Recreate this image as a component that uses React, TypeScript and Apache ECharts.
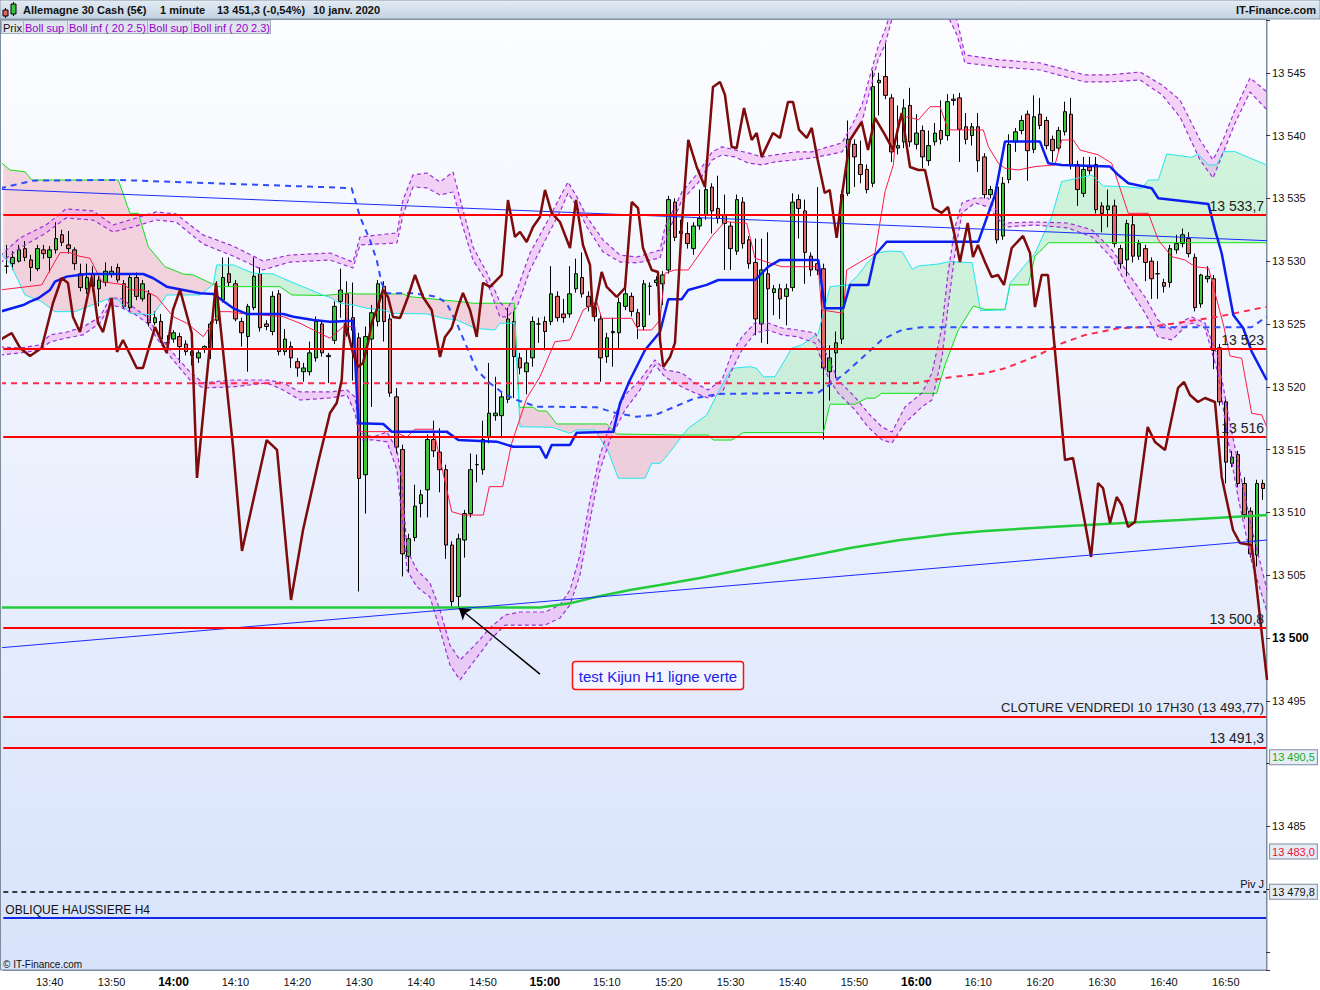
import React, { useEffect, useRef } from "react";
import * as echarts from "echarts";

const FONT = '"Liberation Sans", Arial, sans-serif';

// minute categories 13:33 -> 16:56
const minutes: string[] = [];
for (let k = 0; k < 204; k++) {
  const t = 13 * 60 + 33 + k;
  minutes.push(Math.floor(t / 60) + ":" + String(t % 60).padStart(2, "0"));
}

// [open, close, low, high]
const candles = [
  [13529.6,13529.6,13529.0,13531.3],[13529.8,13530.3,13529.3,13530.8],[13530.0,13530.9,13529.9,13531.3],[13531.0,13530.3,13530.0,13531.6],[13530.1,13529.5,13528.4,13530.5],[13529.4,13531.0,13529.2,13531.3],[13530.9,13530.6,13530.2,13531.3],[13530.3,13530.9,13529.1,13531.2],[13530.9,13531.8,13530.6,13533.1],[13532.1,13531.5,13531.2,13532.5],
  [13531.3,13531.0,13530.6,13532.4],[13530.9,13529.8,13529.3,13531.1],[13529.0,13527.9,13527.6,13529.8],[13527.8,13528.7,13527.4,13529.8],[13529.0,13528.0,13527.6,13529.6],[13527.8,13528.5,13526.4,13528.8],[13528.3,13529.2,13528.0,13529.9],[13529.0,13529.2,13528.7,13529.6],[13529.5,13528.5,13528.3,13529.8],[13528.2,13526.4,13526.2,13528.5],
  [13526.3,13528.7,13526.0,13528.9],[13528.7,13527.2,13526.9,13529.1],[13527.0,13528.2,13526.8,13528.5],[13527.4,13525.1,13524.8,13527.7],[13525.1,13525.5,13524.9,13526.0],[13525.2,13523.8,13523.5,13525.8],[13523.5,13523.5,13523.0,13524.1],[13523.8,13524.3,13523.5,13524.5],[13524.0,13523.2,13521.9,13524.3],[13523.4,13522.8,13522.5,13523.7],
  [13522.8,13522.5,13521.7,13523.0],[13522.3,13522.7,13521.9,13522.9],[13523.0,13523.2,13522.7,13523.3],[13523.0,13525.0,13522.2,13525.2],[13525.3,13527.2,13525.0,13528.4],[13526.9,13528.7,13526.7,13530.3],[13529.0,13528.3,13528.0,13530.3],[13528.2,13525.4,13525.2,13528.5],[13525.2,13524.3,13523.2,13525.5],[13524.0,13526.4,13521.2,13526.6],
  [13526.3,13528.8,13526.1,13530.3],[13529.0,13524.7,13524.4,13529.5],[13525.0,13524.8,13524.5,13525.3],[13524.4,13527.2,13524.1,13527.6],[13527.4,13522.8,13522.5,13527.7],[13522.8,13523.8,13522.5,13524.6],[13523.2,13522.3,13521.5,13523.6],[13522.0,13521.5,13520.8,13522.3],[13521.2,13521.5,13520.4,13521.9],[13521.2,13522.7,13520.9,13523.6],
  [13522.3,13525.2,13522.0,13525.6],[13525.0,13522.7,13522.4,13525.3],[13522.4,13522.5,13520.3,13522.7],[13523.7,13526.4,13523.4,13526.8],[13526.8,13527.7,13525.5,13529.4],[13527.4,13524.3,13524.0,13528.4],[13525.5,13524.5,13520.5,13528.3],[13523.9,13512.7,13503.7,13524.3],[13513.0,13524.0,13509.9,13524.8],[13523.8,13525.9,13518.4,13526.5],
  [13525.2,13528.2,13524.8,13528.5],[13528.0,13525.2,13523.6,13528.4],[13525.4,13519.5,13519.2,13525.8],[13519.2,13515.2,13514.7,13519.9],[13515.0,13506.7,13504.9,13515.4],[13506.5,13507.9,13505.2,13508.3],[13508.0,13510.5,13507.7,13512.2],[13510.7,13511.4,13509.6,13511.8],[13511.8,13515.8,13509.6,13516.2],[13515.8,13514.9,13514.4,13517.3],
  [13514.8,13513.4,13511.6,13516.7],[13513.4,13507.4,13506.3,13513.8],[13507.4,13502.9,13502.5,13507.7],[13503.3,13507.9,13502.4,13508.3],[13507.8,13509.9,13506.4,13510.2],[13509.9,13513.4,13509.6,13514.7],[13513.8,13513.8,13512.4,13514.6],[13513.4,13515.8,13513.0,13517.3],[13516.0,13517.9,13515.5,13521.9],[13517.7,13517.9,13517.3,13520.8],
  [13517.7,13519.2,13515.9,13519.6],[13519.0,13525.4,13518.7,13526.3],[13525.2,13522.4,13519.1,13526.0],[13522.3,13521.5,13521.0,13522.7],[13521.2,13521.9,13519.4,13523.0],[13522.3,13525.2,13521.6,13525.6],[13525.0,13525.0,13523.5,13525.5],[13525.2,13524.4,13522.9,13525.6],[13525.2,13527.4,13524.9,13529.6],[13527.2,13525.5,13525.2,13527.6],
  [13525.8,13525.5,13525.1,13527.0],[13525.8,13527.4,13525.5,13529.6],[13527.8,13529.0,13527.5,13530.2],[13528.7,13527.4,13527.1,13530.7],[13527.2,13526.4,13526.0,13527.6],[13526.3,13525.6,13525.2,13526.6],[13525.4,13522.3,13520.4,13525.8],[13522.4,13523.9,13521.9,13524.3],[13524.3,13524.4,13521.6,13525.5],[13524.3,13526.7,13523.0,13527.1],
  [13526.4,13527.4,13526.1,13527.9],[13527.2,13526.0,13525.6,13527.5],[13525.9,13524.8,13523.8,13526.2],[13524.8,13528.2,13524.5,13528.5],[13528.0,13528.0,13525.7,13528.3],[13528.3,13528.5,13528.0,13528.8],[13528.2,13528.9,13526.5,13529.2],[13529.3,13534.9,13529.0,13535.2],[13534.7,13531.9,13531.6,13535.0],[13532.2,13532.4,13531.1,13533.3],
  [13532.2,13531.4,13531.0,13533.1],[13531.0,13532.8,13530.5,13533.1],[13532.8,13533.4,13532.5,13535.7],[13533.7,13535.7,13533.3,13536.0],[13535.9,13534.0,13532.2,13536.2],[13534.2,13533.4,13533.0,13536.8],[13533.7,13533.0,13529.3,13535.3],[13532.8,13531.0,13529.3,13533.1],[13530.8,13534.9,13530.5,13535.3],[13534.7,13531.4,13531.0,13535.1],
  [13531.7,13529.8,13529.4,13532.0],[13529.9,13525.4,13524.1,13531.8],[13525.0,13529.3,13523.5,13531.8],[13529.0,13527.8,13523.4,13532.3],[13527.5,13527.8,13525.7,13528.1],[13527.8,13527.0,13525.4,13528.2],[13527.2,13527.8,13524.9,13528.2],[13527.9,13534.7,13527.6,13535.4],[13534.9,13534.2,13531.8,13535.3],[13534.0,13530.7,13528.2,13534.9],
  [13530.4,13529.3,13528.8,13530.7],[13529.8,13529.3,13528.9,13535.9],[13529.4,13521.5,13515.8,13529.8],[13521.2,13522.3,13518.9,13523.3],[13522.7,13523.5,13520.7,13524.4],[13523.8,13535.3,13523.4,13535.6],[13535.4,13539.7,13535.2,13541.2],[13539.3,13538.3,13535.9,13539.7],[13537.7,13536.9,13536.2,13539.6],[13537.3,13535.7,13535.4,13537.7],
  [13536.2,13543.9,13535.9,13545.2],[13544.2,13544.4,13541.6,13545.0],[13544.7,13543.2,13542.9,13547.3],[13543.0,13538.7,13537.9,13543.3],[13539.0,13539.2,13538.5,13542.4],[13539.5,13542.2,13539.0,13542.9],[13542.4,13539.5,13539.1,13543.8],[13539.3,13540.2,13538.9,13541.7],[13540.4,13538.3,13537.4,13540.8],[13538.0,13539.2,13537.6,13540.4],
  [13539.5,13540.2,13539.2,13541.0],[13540.4,13539.7,13539.3,13542.8],[13540.0,13542.7,13539.6,13543.3],[13542.9,13542.8,13542.4,13543.3],[13543.0,13540.5,13537.9,13543.4],[13540.7,13539.7,13539.3,13541.8],[13540.0,13540.7,13539.2,13541.0],[13540.7,13538.0,13537.1,13541.8],[13538.3,13535.3,13535.0,13538.6],[13535.3,13535.7,13535.0,13536.0],
  [13535.9,13531.7,13531.4,13536.2],[13532.0,13536.2,13531.7,13536.7],[13536.5,13539.3,13536.2,13540.1],[13539.5,13540.3,13538.7,13540.6],[13540.4,13541.2,13540.1,13541.6],[13541.7,13538.8,13536.4,13542.0],[13538.9,13541.5,13538.6,13543.2],[13541.7,13540.8,13540.5,13543.0],[13541.2,13539.2,13538.9,13541.5],[13539.7,13538.8,13537.9,13540.0],
  [13539.0,13540.4,13538.7,13540.7],[13540.3,13541.9,13540.0,13542.7],[13541.7,13537.6,13537.3,13543.0],[13537.7,13535.7,13534.4,13538.0],[13535.4,13537.3,13535.1,13538.3],[13537.5,13537.2,13536.9,13538.3],[13537.7,13534.1,13533.8,13538.3],[13534.4,13533.8,13532.3,13534.7],[13534.1,13534.4,13532.7,13535.7],[13534.4,13531.4,13531.1,13534.9],
  [13531.0,13529.8,13529.4,13531.3],[13530.1,13533.0,13528.8,13533.3],[13532.9,13530.4,13529.9,13533.6],[13530.4,13531.4,13530.1,13531.7],[13531.0,13529.9,13528.4,13531.3],[13530.0,13528.6,13527.0,13530.3],[13529.0,13529.0,13527.0,13530.0],[13528.3,13528.0,13527.5,13528.6],[13528.3,13531.0,13527.9,13531.3],[13530.9,13531.4,13530.6,13532.1],
  [13531.4,13532.1,13531.1,13532.6],[13531.8,13530.6,13530.3,13532.3],[13530.3,13526.3,13526.0,13530.6],[13526.6,13528.9,13526.3,13529.0],[13528.6,13528.8,13528.3,13529.6],[13528.6,13522.9,13521.4,13528.9],[13523.1,13518.8,13518.5,13523.4],[13518.8,13514.0,13512.3,13519.1],[13513.9,13514.4,13513.6,13514.9],[13514.6,13512.3,13512.0,13514.9],
  [13512.3,13509.8,13509.5,13512.8],[13510.1,13506.7,13506.4,13510.4],[13506.6,13512.3,13505.7,13512.6],[13512.3,13511.9,13511.0,13512.6],
];

// overlays: [minute index, value]
const priceLine = [
  [-1.03,13523.73],[0.86,13524.28],[2.2,13523.09],[3.81,13522.45],[5.7,13523.09],[7.53,13526.67],[8.93,13528.66],[9.95,13528.27],[10.76,13525.56],[11.89,13524.36],
  [13.78,13528.74],[14.8,13525.08],[15.61,13524.36],[17.01,13527.07],[17.87,13522.77],[18.84,13523.73],[21.05,13521.5],[22.07,13521.5],[24.01,13524.76],[25.9,13522.69],
  [26.91,13526.11],[28.05,13527.71],[29.94,13524.28],[30.79,13512.74],[33.86,13528.27],[36.61,13515.21],[38.06,13506.93],[42.05,13515.76],[43.72,13514.97],[45.98,13503.03],
  [47.92,13508.6],[50.34,13513.93],[52.28,13517.91],[53.36,13518.71],[54.17,13520.54],[54.7,13525.08],[55.19,13524.28],[55.99,13522.69],[56.8,13521.58],[57.61,13521.9],
  [58.42,13523.49],[59.01,13525.08],[59.82,13526.11],[60.84,13527.71],[61.65,13527.15],[62.46,13525.56],[63.59,13525.48],[64.88,13527.15],[66.01,13528.9],[67.3,13527.15],
  [68.71,13526.11],[70.05,13522.37],[70.86,13523.97],[71.94,13524.68],[72.96,13526.35],[73.76,13527.47],[74.9,13526.11],[75.98,13523.97],[76.99,13528.27],[78.13,13527.95],
  [80.02,13528.9],[81.03,13534.87],[82.16,13531.93],[82.97,13532.33],[84.05,13531.53],[85.07,13532.72],[86.2,13533.52],[87.01,13535.67],[88.09,13533.84],[89.43,13533.12],
  [91.05,13531.05],[92.02,13534.87],[93.15,13531.29],[94.28,13529.7],[94.77,13525.56],[96.17,13529.14],[96.98,13527.95],[98.59,13527.15],[99.94,13527.87],[101.02,13534.71],
  [102.04,13534.23],[102.84,13531.05],[104.25,13529.3],[105.27,13529.14],[105.59,13523.73],[106.12,13521.58],[107.21,13522.37],[108.01,13523.49],[109.09,13532.72],[110.16,13539.65],
  [111.52,13537.5],[112.86,13535.91],[114.15,13543.87],[115.28,13544.27],[116.09,13543.23],[117.17,13539.09],[117.98,13539.01],[119.16,13542.2],[120.4,13539.65],[121.21,13540.21],
  [122.02,13538.3],[123.84,13540.21],[124.98,13539.81],[126.27,13542.68],[127.08,13542.68],[128.05,13540.45],[129.29,13539.81],[130.1,13540.61],[131.07,13538.06],[132.2,13535.43],
  [133.01,13535.67],[134.13,13531.85],[134.94,13535.11],[136.28,13539.65],[138.17,13541.08],[139.19,13538.85],[140.32,13541.4],[141.94,13540.05],[143.23,13538.85],[144.64,13541.8],
  [145.98,13537.5],[147.32,13537.26],[148.4,13537.26],[149.74,13534.23],[151.1,13533.84],[152.12,13534.31],[153.25,13531.93],[154.05,13529.94],[155.3,13533.04],[156.16,13530.33],
  [156.96,13531.29],[158.09,13529.94],[159.18,13528.74],[160.19,13528.9],[161.16,13528.11],[162.41,13531.05],[164.24,13532.01],[165.37,13530.65],[166.17,13526.35],[167.25,13528.9],
  [168.27,13528.9],[169.68,13521.34],[171.02,13514.17],[172.31,13514.33],[174.25,13509.16],[175.23,13506.45],[176.36,13512.34],[177.16,13511.94],[178.29,13509.16],[179.37,13511.23],
  [180.18,13510.59],[181.2,13508.84],[182.33,13509.24],[184.38,13516.8],[185.56,13515.61],[187.18,13514.97],[189.28,13519.91],[190.25,13520.38],[191.21,13519.35],[192.5,13518.79],
  [193.63,13519.11],[195.25,13518.79],[196.33,13512.82],[198.16,13508.6],[199.29,13507.56],[201.18,13507.4],[202.2,13503.03],[203.66,13496.66],
];

const kijun = [
  [-1.03,13525.98],[2.73,13526.51],[3.81,13526.78],[5.15,13527.05],[7.04,13527.71],[7.85,13528.37],[9.74,13528.77],[12.97,13528.98],[22.12,13528.98],[23.73,13528.64],
  [25.9,13527.97],[31.28,13527.45],[33.43,13527.39],[36.66,13526.25],[38.82,13525.8],[44.73,13525.8],[46.35,13525.58],[49.58,13525.32],[52.28,13525.18],[56.04,13525.26],
  [56.85,13517.09],[60.89,13517.04],[62.25,13516.43],[71.13,13516.43],[73.01,13515.76],[79.21,13515.63],[81.89,13515.23],[86.2,13515.23],[87.17,13514.31],[88.09,13515.37],
  [91.05,13515.37],[92.13,13516.35],[98.05,13516.43],[99.13,13518.69],[100.74,13520.54],[103.17,13522.93],[105.59,13524.36],[106.93,13526.97],[109.09,13526.97],[110.16,13527.71],
  [113.13,13528.11],[115.01,13528.5],[120.94,13528.5],[123.09,13529.56],[124.98,13530.1],[131.16,13530.1],[132.24,13526.25],[135.2,13526.25],[136.28,13528.11],[139.24,13528.11],
  [140.32,13530.49],[142.21,13531.55],[157.01,13531.55],[158.63,13533.81],[159.71,13535.27],[161.32,13539.52],[166.98,13539.52],[168.32,13537.8],[170.48,13537.66],[178.29,13537.53],
  [179.63,13536.86],[181.25,13536.2],[185.03,13535.81],[186.09,13535.01],[194.17,13534.56],[195.25,13532.49],[196.33,13530.63],[198.21,13525.72],[199.82,13524.66],[201.18,13522.8],
  [203.6,13520.54],
];

const tenkan = [
  [-1.03,13527.71],[5.7,13528.11],[8.66,13530.68],[10.27,13530.68],[11.62,13530.42],[13.51,13530.23],[15.4,13528.37],[19.16,13528.11],[19.97,13527.71],[22.12,13527.71],
  [24.28,13527.17],[26.96,13525.58],[29.13,13525.06],[31.81,13523.99],[34.51,13525.98],[36.12,13525.98],[37.74,13525.85],[44.73,13525.58],[47.43,13525.06],[52.28,13523.86],
  [54.43,13524.79],[56.32,13524.79],[57.12,13516.43],[62.78,13516.43],[64.67,13515.98],[66.01,13516.62],[68.97,13516.62],[71.94,13510.06],[73.81,13509.79],[77.04,13509.79],
  [78.01,13512.05],[80.18,13512.05],[81.63,13515.5],[84.05,13519.08],[86.2,13520.8],[88.63,13523.59],[91.05,13523.73],[93.2,13526.12],[95.36,13526.78],[96.17,13525.45],
  [101.02,13525.45],[102.08,13524.52],[104.25,13524.52],[105.59,13525.32],[106.4,13529.04],[108.01,13529.3],[110.16,13529.3],[113.94,13531.95],[116.09,13533.15],[119.6,13533.02],
  [120.94,13530.23],[125.25,13529.56],[131.16,13529.56],[131.71,13526.12],[135.2,13525.85],[135.75,13529.3],[140.32,13530.63],[141.94,13535.53],[143.28,13537.66],[143.55,13539.12],
  [144.09,13541.24],[145.7,13541.51],[147.32,13541.24],[149.21,13542.3],[150.82,13542.3],[152.16,13540.45],[157.82,13540.45],[158.63,13539.12],[160.24,13537.8],[161.32,13537.4],
  [163.47,13537.26],[166.17,13537.53],[169.4,13537.66],[170.48,13539.65],[172.36,13539.65],[173.44,13538.85],[176.4,13538.46],[178.56,13537.8],[181.25,13533.81],[184.48,13533.81],
  [186.09,13531.69],[188.26,13530.36],[190.4,13530.1],[192.02,13529.56],[194.2,13529.44],[196.62,13524.92],[197.67,13522.45],[199.56,13522.27],[201.18,13517.89],[202.8,13517.76],
  [203.6,13516.82],
];

// ichimoku span lines (green / cyan)
const spanA = [
  [-1.03,13537.92],[0.58,13537.26],[3.0,13537.12],[4.09,13536.46],[18.08,13536.46],[19.97,13533.81],[21.31,13533.81],[22.92,13531.15],[25.62,13529.56],[28.58,13528.98],
  [30.19,13528.9],[33.43,13528.15],[33.97,13527.97],[44.2,13527.97],[46.09,13527.31],[51.31,13527.27],[52.28,13527.31],[55.51,13527.49],[56.32,13527.39],[64.12,13527.39],
  [65.2,13527.17],[73.28,13526.78],[75.43,13526.65],[82.05,13526.65],[82.86,13518.37],[85.12,13518.37],[85.93,13518.07],[87.28,13518.07],[88.9,13517.04],[96.98,13517.04],
  [98.59,13516.24],[105.59,13516.19],[109.3,13516.16],[113.39,13516.16],[114.2,13515.76],[117.17,13515.76],[119.05,13516.35],[131.97,13516.35],[133.05,13518.61],[137.09,13518.61],
  [138.98,13519.09],[140.32,13519.09],[141.4,13519.48],[150.28,13519.48],[151.63,13521.74],[153.78,13524.52],[156.2,13526.43],[158.09,13526.17],[161.32,13526.17],[162.13,13528.11],
  [165.09,13528.11],[166.17,13530.41],[167.51,13531.03],[168.32,13531.47],[203.6,13531.47],
];
const spanB = [
  [-1.03,13530.63],[0.58,13529.83],[3.0,13527.31],[5.7,13526.78],[7.85,13525.98],[11.08,13525.98],[14.59,13526.65],[16.74,13527.05],[18.08,13526.91],[19.97,13525.85],
  [23.73,13525.72],[25.9,13527.31],[31.28,13527.31],[33.43,13528.15],[33.97,13529.7],[36.66,13529.7],[39.89,13529.04],[43.12,13528.98],[45.28,13528.5],[51.31,13527.27],
  [52.28,13527.11],[53.89,13526.65],[56.04,13526.51],[58.2,13526.25],[60.89,13526.11],[62.5,13525.85],[67.9,13525.8],[70.58,13525.45],[72.75,13525.32],[75.7,13524.66],
  [78.93,13524.52],[79.74,13525.06],[82.16,13525.06],[82.97,13516.82],[88.09,13516.78],[91.05,13516.3],[92.13,13516.56],[95.09,13516.56],[97.24,13514.83],[98.85,13512.72],
  [103.17,13512.72],[104.25,13513.91],[105.59,13513.91],[106.4,13514.31],[109.3,13516.16],[110.16,13516.7],[113.13,13517.75],[114.75,13519.35],[117.17,13521.47],[120.13,13521.6],
  [121.21,13521.47],[122.28,13520.8],[124.17,13520.8],[126.87,13523.07],[128.48,13523.33],[131.16,13524.26],[133.05,13527.97],[136.0,13528.11],[137.62,13528.9],[139.24,13529.96],
  [140.6,13530.63],[142.47,13530.81],[144.71,13530.76],[146.32,13529.36],[147.4,13529.62],[150.63,13529.78],[152.25,13529.96],[156.01,13529.88],[157.37,13526.06],[161.32,13526.12],
  [162.13,13528.24],[166.17,13530.63],[168.86,13533.54],[170.48,13536.33],[174.24,13536.73],[175.33,13536.86],[177.21,13535.99],[180.71,13535.93],[183.41,13535.8],[184.48,13536.46],
  [186.09,13536.46],[187.45,13538.53],[191.49,13538.27],[192.55,13538.53],[194.17,13537.66],[195.52,13537.66],[196.59,13538.72],[198.48,13538.72],[200.63,13538.27],[203.6,13537.66],
];
// cloud segments between span crossings
const cloudBreaks = [-2, 33.43, 51.31, 109.3, 205];
const cloudColors = ["rgba(240,150,165,0.38)", "rgba(120,230,140,0.3)", "rgba(240,150,165,0.38)", "rgba(120,230,140,0.3)"];

// bollinger upper pair [index, 2.5 band, 2.3 band]
const bollUpper = [
  [-1.03,13530.41,13529.86],[2.2,13531.85,13531.05],[6.4,13532.88,13532.25],[9.63,13534.16,13533.44],[13.99,13534.0,13533.28],[17.22,13532.88,13532.33],[20.45,13533.36,13532.72],[24.17,13533.92,13533.28],[27.4,13533.76,13533.12],[31.76,13532.09,13531.37],
  [36.61,13531.21,13530.41],[41.45,13530.02,13529.3],[45.81,13530.49,13529.93],[52.28,13530.65,13530.09],[55.99,13529.93,13529.46],[57.12,13531.93,13531.29],[63.1,13532.25,13531.45],[64.07,13534.87,13533.68],[65.68,13536.86,13535.91],[67.95,13537.02,13535.83],
  [70.05,13536.3,13535.27],[72.15,13537.1,13535.51],[73.76,13534.08,13532.72],[75.38,13531.13,13530.09],[77.64,13529.06,13528.34],[79.74,13526.75,13525.56],[80.87,13526.11,13525.56],[82.49,13527.71,13526.35],[84.59,13530.65,13529.3],[87.33,13533.12,13531.93],
  [89.43,13535.11,13533.92],[90.73,13536.3,13535.43],[92.18,13535.11,13534.32],[93.79,13533.52,13532.72],[96.38,13531.69,13530.74],[99.13,13530.49,13529.93],[101.87,13530.33,13529.86],[103.97,13530.65,13530.09],[105.59,13530.89,13530.25],[106.4,13532.72,13531.69],
  [109.14,13535.51,13534.87],[111.73,13537.02,13536.23],[114.01,13538.7,13538.06],[115.6,13539.1,13538.46],[117.7,13538.86,13538.3],[119.81,13538.62,13537.82],[122.07,13538.3,13537.66],[124.17,13538.46,13537.9],[127.4,13538.7,13538.06],[130.15,13538.7,13538.22],
  [132.73,13539.1,13538.46],[134.99,13539.41,13538.7],[136.61,13540.85,13539.89],[138.22,13542.44,13541.08],[139.19,13544.19,13543.0],[140.81,13547.06,13546.02],[141.94,13548.41,13547.22],[143.23,13550.4,13549.6],[147.59,13551.59,13550.8],[151.63,13550.8,13550.0],
  [153.57,13549.2,13548.01],[154.86,13546.42,13545.78],[160.51,13546.02,13545.46],[166.97,13545.78,13545.22],[174.24,13544.83,13544.27],[178.28,13544.83,13544.27],[183.13,13545.06,13544.43],[186.69,13544.03,13543.24],[189.6,13542.83,13541.48],[192.83,13539.65,13538.06],
  [194.93,13538.06,13536.62],[196.55,13539.65,13538.62],[198.49,13542.04,13541.0],[200.91,13544.59,13543.47],[203.66,13543.47,13542.04],
];
// bollinger lower pair [index, 2.3 band, 2.5 band]
const bollLower = [
  [-1.03,13523.17,13522.53],[2.2,13523.09,13522.69],[5.43,13523.33,13522.93],[7.04,13524.13,13523.57],[9.79,13524.36,13523.89],[12.37,13524.76,13524.13],[15.12,13525.56,13525.08],[16.74,13527.07,13526.51],[18.35,13527.07,13526.35],[20.45,13526.35,13525.88],
  [22.71,13525.56,13525.08],[24.81,13523.97,13523.49],[26.91,13522.69,13522.14],[29.66,13521.18,13520.54],[31.76,13520.31,13519.91],[36.61,13520.54,13519.99],[42.1,13520.54,13520.31],[44.69,13520.31,13519.75],[47.43,13519.59,13518.95],[52.28,13519.59,13519.11],
  [55.02,13519.75,13519.35],[56.32,13519.19,13517.92],[57.12,13516.32,13515.77],[59.23,13516.0,13515.77],[61.49,13516.4,13515.61],[63.1,13514.97,13513.37],[63.91,13512.34,13509.63],[64.72,13507.01,13505.41],[66.33,13505.41,13504.06],[68.43,13504.38,13503.26],
  [70.05,13502.23,13500.64],[71.66,13499.44,13497.85],[73.28,13498.25,13496.66],[75.7,13499.44,13498.25],[78.13,13500.8,13499.84],[80.55,13501.83,13501.03],[82.97,13502.07,13501.03],[87.01,13502.07,13501.03],[89.43,13502.63,13501.59],[91.05,13503.82,13502.63],
  [92.66,13506.61,13505.02],[94.28,13510.99,13509.4],[95.89,13514.57,13513.37],[97.51,13516.96,13515.77],[99.94,13519.35,13518.16],[102.36,13520.54,13519.75],[104.78,13522.14,13521.74],[106.4,13521.34,13520.78],[109.14,13521.1,13519.99],[111.24,13520.31,13519.51],
  [113.34,13519.75,13519.11],[115.6,13520.54,13519.51],[117.22,13522.69,13521.34],[118.83,13523.97,13522.93],[120.93,13525.08,13524.28],[123.03,13525.08,13524.52],[125.3,13524.68,13524.13],[127.88,13524.52,13523.97],[130.63,13524.28,13523.49],[132.73,13522.37,13520.78],
  [134.35,13520.54,13519.51],[137.09,13519.19,13518.16],[139.19,13517.92,13516.8],[141.45,13516.8,13515.77],[143.07,13516.4,13515.53],[145.17,13518.4,13517.12],[147.92,13519.51,13518.4],[149.53,13521.1,13518.95],[151.15,13524.76,13522.37],[152.12,13529.06,13526.35],
  [153.25,13532.72,13530.65],[154.38,13534.64,13533.84],[156.48,13535.03,13534.64],[158.58,13535.03,13534.32],[161.32,13533.04,13532.72],[166.17,13533.12,13532.88],[171.5,13533.04,13532.64],[175.38,13532.49,13531.93],[178.61,13530.89,13530.25],[181.19,13529.06,13527.95],
  [183.94,13527.15,13525.88],[186.04,13525.32,13523.97],[188.3,13524.52,13523.73],[190.4,13525.32,13524.76],[191.53,13525.56,13525.08],[193.63,13525.08,13524.68],[195.73,13522.37,13521.1],[197.35,13517.92,13515.77],[198.97,13513.93,13511.23],[201.23,13508.6,13505.97],
  [203.66,13503.82,13502.07],
];

const blueDash = [
  [-1.03,13535.8],[4.3,13536.41],[17.82,13536.47],[52.28,13535.88],[55.78,13535.8],[57.12,13533.54],[58.74,13531.69],[59.82,13530.09],[60.63,13528.24],[61.44,13527.45],
  [65.74,13527.45],[69.52,13527.17],[71.13,13526.65],[72.75,13525.06],[74.36,13523.19],[75.98,13521.34],[78.13,13520.28],[80.27,13519.48],[82.44,13518.95],[85.67,13518.42],
  [95.36,13518.37],[98.59,13517.89],[101.83,13517.62],[104.78,13517.75],[108.01,13518.42],[111.24,13519.09],[115.01,13519.43],[131.16,13519.53],[133.33,13520.28],[135.48,13521.07],
  [138.17,13522.27],[141.4,13523.73],[144.63,13524.52],[147.87,13524.74],[201.18,13524.74],[203.6,13525.58],
];
const redDash = [
  [-1.03,13520.28],[146.78,13520.28],[149.48,13520.54],[153.25,13520.8],[158.09,13521.07],[161.32,13521.47],[166.17,13522.4],[170.48,13523.46],[174.24,13524.12],[179.62,13524.66],
  [185.03,13524.78],[190.4,13525.18],[195.78,13525.58],[203.6,13526.38],
];
const maLine = [
  [-1.03,13502.43],[86.2,13502.43],[91.05,13502.76],[95.36,13503.29],[100.74,13503.82],[105.59,13504.22],[112.05,13504.78],[120.13,13505.57],[128.21,13506.37],[136.28,13507.17],
  [144.36,13507.8],[152.44,13508.28],[158.09,13508.52],[168.59,13508.84],[179.62,13509.13],[189.6,13509.4],[203.66,13509.79],
];
const trendDown = [[-1.03, 13535.72], [203.66, 13531.63]];
const trendUp = [[-1.03, 13499.22], [203.66, 13507.8]];

const levelValues = [13533.7, 13523, 13516, 13500.8, 13493.77, 13491.3];
const levelLabels = ["13 533,7", "13 523", "13 516", "13 500,8", "CLOTURE VENDREDI 10 17H30 (13 493,77)", "13 491,3"];
const pivotValue = 13479.8;
const obliqueH4 = 13477.73;
const quoteValues = [13490.5, 13483.0, 13479.8];
const quoteLabels = ["13 490,5", "13 483,0", "13 479,8"];
const quoteColors = ["#10b020", "#ee1030", "#111"];
const labelValues = [13485, 13495, 13500, 13505, 13510, 13515, 13520, 13525, 13530, 13535, 13540, 13545];
const arrowFrom = [86.2, 13497.13];
const arrowTo = [73.1, 13502.39];

const fmtPrice = (v: number) => {
  const s = String(Math.round(v));
  return s.slice(0, 2) + " " + s.slice(2);
};

const App: React.FC = () => {
  const chartRef = useRef<HTMLDivElement>(null);

  useEffect(() => {
    const chart = echarts.init(chartRef.current!, null, { renderer: "svg" });

    const overlay = (data: number[][], color: string, width: number, type: any = "solid") => ({
      type: "line",
      xAxisIndex: 1,
      yAxisIndex: 0,
      data,
      symbol: "none",
      silent: true,
      lineStyle: { color, width, type },
    });

    const bandPolys = (api: any, band: number[][]) => {
      const pts = band.map((p) => api.coord([p[0], p[1]]));
      const back = band.slice().reverse().map((p) => api.coord([p[0], p[2]]));
      return pts.concat(back);
    };

    const hidden = { color: "rgba(0,0,0,0)", width: 1, type: "solid" };

    const option = {
      animation: false,
      textStyle: { fontFamily: FONT },
      grid: { left: 3.3, right: 53.94, top: 20, bottom: 20, containLabel: false },
      xAxis: [
        {
          type: "category",
          data: minutes,
          gridIndex: 0,
          axisLine: { onZero: false, lineStyle: { color: "#7d8d9e" } },
          axisTick: {
            alignWithLabel: true,
            length: 5,
            interval: (i: number, v: string) => v.endsWith("0"),
            lineStyle: { color: "#7d8d9e" },
          },
          axisLabel: {
            interval: (i: number, v: string) => v.endsWith("0"),
            color: "#111",
            fontSize: 11,
            margin: 6,
            formatter: (v: string) => (v.endsWith(":00") ? "{b|" + v + "}" : v),
            rich: { b: { fontWeight: "bold", fontSize: 12, color: "#000" } },
          },
          splitLine: { show: false },
        },
        { type: "value", gridIndex: 0, min: -0.5, max: 203.5, show: false },
      ],
      yAxis: {
        type: "value",
        position: "right",
        min: 13473.57,
        max: 13549.2,
        splitNumber: 15,
        splitLine: { show: false },
        axisLine: { show: true, onZero: false, lineStyle: { color: "#7d8d9e" } },
        axisTick: { show: true, length: 4, lineStyle: { color: "#333" } },
        axisLabel: {
          customValues: labelValues,
          color: "#111",
          fontSize: 11,
          margin: 6,
          formatter: (v: number) => (Math.round(v) === 13500 ? "{b|" + fmtPrice(v) + "}" : fmtPrice(v)),
          rich: { b: { fontWeight: "bold", fontSize: 12, color: "#000" } },
        },
      },
      series: [
        {
          type: "custom",
          xAxisIndex: 1,
          yAxisIndex: 0,
          silent: true,
          data: [[100, 13510]],
          renderItem: (params: any, api: any) => {
            const cs = params.coordSys;
            const children: any[] = [];
            for (let z = 0; z < cloudColors.length; z++) {
              const lo = cloudBreaks[z];
              const hi = cloudBreaks[z + 1];
              const a = spanA.filter((p) => p[0] >= lo && p[0] <= hi);
              const b = spanB.filter((p) => p[0] >= lo && p[0] <= hi).reverse();
              children.push({
                type: "polygon",
                shape: { points: a.concat(b).map((p) => api.coord(p)) },
                style: { fill: cloudColors[z] },
              });
            }
            children.push({ type: "polygon", shape: { points: bandPolys(api, bollUpper) }, style: { fill: "rgba(238,160,238,0.45)" } });
            children.push({ type: "polygon", shape: { points: bandPolys(api, bollLower) }, style: { fill: "rgba(238,160,238,0.45)" } });
            return {
              type: "group",
              clipPath: { type: "rect", shape: { x: cs.x, y: cs.y, width: cs.width, height: cs.height } },
              children,
            };
          },
        },
        overlay(spanA, "#12e012", 1),
        overlay(spanB, "#22e6ee", 1),
        {
          type: "candlestick",
          xAxisIndex: 0,
          yAxisIndex: 0,
          data: candles,
          barWidth: 4,
          silent: true,
          itemStyle: {
            color: "#3cc63c",
            color0: "#e26a66",
            borderColor: "#000",
            borderColor0: "#000",
            borderWidth: 1,
          },
        },
        overlay(bollUpper.map((p) => [p[0], p[1]]), "#9b30d8", 1.2, [4, 3]),
        overlay(bollUpper.map((p) => [p[0], p[2]]), "#9b30d8", 1.2, [4, 3]),
        overlay(bollLower.map((p) => [p[0], p[1]]), "#9b30d8", 1.2, [4, 3]),
        overlay(bollLower.map((p) => [p[0], p[2]]), "#9b30d8", 1.2, [4, 3]),
        overlay(redDash, "#ff2a4a", 2, [6, 5]),
        overlay(blueDash, "#2f4cff", 2, [6, 5]),
        overlay(maLine, "#22cc3a", 2.5),
        overlay(trendDown, "#1a2cff", 1),
        overlay(tenkan, "#ff1a44", 1),
        overlay(kijun, "#0b1ef0", 2.5),
        overlay(priceLine, "#7e0a0a", 2.5),
        {
          ...overlay(trendUp, "#1a2cff", 1),
          markLine: {
            silent: true,
            symbol: ["none", "none"],
            animation: false,
            data: [
              ...levelValues.map((v, k) => ({
                yAxis: v,
                lineStyle: { color: "#ff0000", width: 2, type: "solid" },
                label: {
                  show: true,
                  position: "insideEndTop",
                  formatter: levelLabels[k],
                  color: "#222",
                  fontSize: k === 4 ? 13 : 14,
                  distance: 2,
                },
              })),
              {
                yAxis: pivotValue,
                lineStyle: { color: "#000", width: 1.5, type: [5, 4] },
                label: { show: true, position: "insideEndTop", formatter: "Piv J", color: "#111", fontSize: 11, distance: 2 },
              },
              {
                yAxis: obliqueH4,
                lineStyle: { color: "#1028e6", width: 2, type: "solid" },
                label: { show: true, position: "insideStartTop", formatter: "OBLIQUE HAUSSIERE H4", color: "#111", fontSize: 12, distance: 2 },
              },
              ...quoteValues.map((v, k) => ({
                yAxis: v,
                lineStyle: hidden,
                label: {
                  show: true,
                  position: "end",
                  formatter: quoteLabels[k],
                  color: quoteColors[k],
                  fontSize: 11,
                  distance: 4,
                  backgroundColor: "#e6edf6",
                  borderColor: "#7d8d9e",
                  borderWidth: 1,
                  padding: [2, 2, 1, 2],
                },
              })),
            ],
          },
        },
        {
          ...overlay([], "#000", 1),
          markLine: {
            silent: true,
            symbol: ["none", "arrow"],
            symbolSize: 11,
            animation: false,
            lineStyle: { color: "#000", width: 1.5, type: "solid" },
            label: { show: false },
            data: [[{ coord: arrowFrom }, { coord: arrowTo }]],
          },
        },
      ],
      graphic: [
        {
          type: "rect",
          z: -10,
          silent: true,
          shape: { x: 0.5, y: 19.5, width: 1266.5, height: 950.5 },
          style: {
            fill: new echarts.graphic.LinearGradient(0, 0, 0, 1, [
              { offset: 0, color: "#fcfdff" },
              { offset: 1, color: "#d8e3fb" },
            ]),
            stroke: "#7d8d9e",
            lineWidth: 1,
          },
        },
        {
          type: "group",
          z: 100,
          silent: true,
          children: [
            {
              type: "rect",
              shape: { x: 0, y: 0, width: 1320, height: 19 },
              style: {
                fill: new echarts.graphic.LinearGradient(0, 0, 0, 1, [
                  { offset: 0, color: "#e4ecf4" },
                  { offset: 1, color: "#c2d2e1" },
                ]),
                stroke: "#8898a8",
                lineWidth: 1,
              },
            },
            { type: "line", shape: { x1: 5.5, y1: 8, x2: 5.5, y2: 18 }, style: { stroke: "#000", lineWidth: 1 } },
            { type: "rect", shape: { x: 3, y: 10, width: 5, height: 6 }, style: { fill: "#e86060", stroke: "#000", lineWidth: 1 } },
            { type: "line", shape: { x1: 13.5, y1: 2, x2: 13.5, y2: 16 }, style: { stroke: "#000", lineWidth: 1 } },
            { type: "rect", shape: { x: 11, y: 4, width: 5, height: 10 }, style: { fill: "#3cc63c", stroke: "#000", lineWidth: 1 } },
            ...[
              ["Allemagne 30 Cash (5€)", 23],
              ["1 minute", 160],
              ["13 451,3 (-0,54%)", 217],
              ["10 janv. 2020", 313],
            ].map(([t, x]) => ({
              type: "text",
              style: {
                text: t,
                x,
                y: 10,
                font: "bold 11px " + FONT,
                fill: "#111",
                textVerticalAlign: "middle",
                verticalAlign: "middle",
              },
            })),
            {
              type: "text",
              style: {
                text: "IT-Finance.com",
                x: 1316,
                y: 10,
                font: "bold 11px " + FONT,
                fill: "#111",
                textAlign: "right",
                align: "right",
                textVerticalAlign: "middle",
                verticalAlign: "middle",
              },
            },
            ...[
              ["Prix", 1, 22, "#111"],
              ["Boll sup", 23, 44, "#9a00d0"],
              ["Boll inf ( 20 2.5)", 67, 80, "#9a00d0"],
              ["Boll sup", 147, 44, "#9a00d0"],
              ["Boll inf ( 20 2.3)", 191, 79, "#9a00d0"],
            ].flatMap(([t, x, w, c]: any) => [
              {
                type: "rect",
                shape: { x: x + 0.5, y: 20.5, width: w, height: 13 },
                style: { fill: "#dfe5ec", stroke: "#a4b0bd", lineWidth: 1 },
              },
              {
                type: "text",
                style: {
                  text: t,
                  x: x + 2,
                  y: 27.5,
                  font: "11px " + FONT,
                  fill: c,
                  textVerticalAlign: "middle",
                  verticalAlign: "middle",
                },
              },
            ]),
            {
              type: "text",
              style: {
                text: "© IT-Finance.com",
                x: 3,
                y: 964,
                font: "10px " + FONT,
                fill: "#111",
                textVerticalAlign: "middle",
                verticalAlign: "middle",
              },
            },
            {
              type: "rect",
              shape: { x: 572.5, y: 661.5, width: 171, height: 28, r: 3 },
              style: { fill: "#f2f5ff", stroke: "#ff1010", lineWidth: 1.5 },
            },
            {
              type: "text",
              style: {
                text: "test Kijun H1 ligne verte",
                x: 658,
                y: 676,
                font: "15px " + FONT,
                fill: "#1a22e8",
                textAlign: "center",
                align: "center",
                textVerticalAlign: "middle",
                verticalAlign: "middle",
              },
            },
          ],
        },
      ],
    };

    chart.setOption(option as any);

    return () => {
      chart.dispose();
    };
  }, []);

  return (
    <div
      ref={chartRef}
      style={{ position: "absolute", left: 0, top: 0, width: 1320, height: 990, background: "#fff" }}
    />
  );
};

export default App;
